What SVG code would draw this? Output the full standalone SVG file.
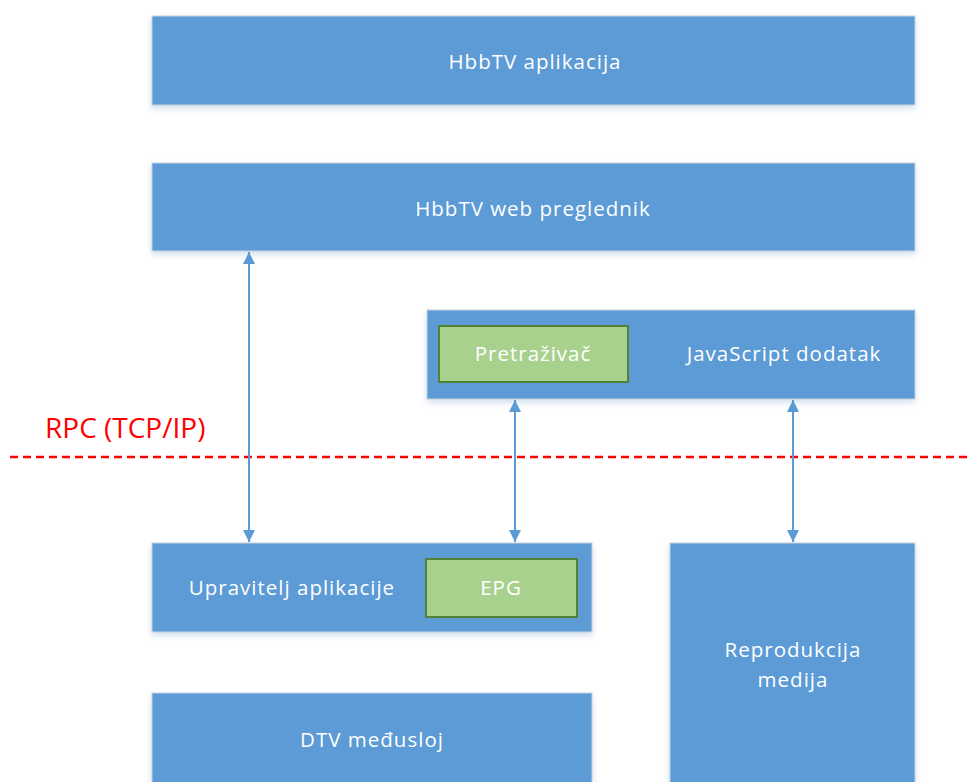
<svg xmlns="http://www.w3.org/2000/svg" width="969" height="782" viewBox="0 0 969 782">
<style>
.box{fill:#5b9bd5;stroke:#c8d3df;stroke-width:1}
.g{fill:#a9d18e;stroke:#548235;stroke-width:2}
.t{font-family:"Open Sans","Noto Sans","Liberation Sans",sans-serif;font-size:20.5px;fill:#ffffff;text-anchor:middle;letter-spacing:1px}
.c{stroke:#5b9bd5;stroke-width:2;fill:none;marker-start:url(#ah);marker-end:url(#ah)}
</style>
<defs>
<filter id="sh" x="-5%" y="-10%" width="110%" height="130%">
<feDropShadow dx="0" dy="3" stdDeviation="3" flood-color="#9cb6d6" flood-opacity="0.45"/>
</filter>
<marker id="ah" viewBox="0 0 10 10" refX="10" refY="5" markerWidth="12" markerHeight="13" markerUnits="userSpaceOnUse" orient="auto-start-reverse">
<path d="M0,0 L10,5 L0,10 z" fill="#5b9bd5"/>
</marker>
</defs>
<rect width="969" height="782" fill="#ffffff"/>
<g id="app">
<rect class="box" filter="url(#sh)" x="152" y="16" width="763" height="89"/>
<text class="t" x="535" y="69">HbbTV aplikacija</text>
</g>
<g id="browser">
<rect class="box" filter="url(#sh)" x="152" y="163" width="763" height="88"/>
<text class="t" x="533" y="216">HbbTV web preglednik</text>
</g>
<g id="js">
<rect class="box" filter="url(#sh)" x="427" y="310" width="488" height="89"/>
<text class="t" x="784" y="361">JavaScript dodatak</text>
</g>
<g id="search">
<rect class="g" x="439" y="326" width="189" height="56"/>
<text class="t" x="533" y="361">Pretraživač</text>
</g>
<g id="manager">
<rect class="box" filter="url(#sh)" x="152" y="543" width="440" height="89"/>
<text class="t" x="292" y="595">Upravitelj aplikacije</text>
</g>
<g id="epg">
<rect class="g" x="426" y="559" width="151" height="58"/>
<text class="t" x="501" y="595">EPG</text>
</g>
<g id="media">
<rect class="box" filter="url(#sh)" x="670" y="543" width="245" height="250"/>
<text class="t" x="793" y="657">Reprodukcija</text>
<text class="t" x="793" y="687">medija</text>
</g>
<g id="dtv">
<rect class="box" filter="url(#sh)" x="152" y="693" width="440" height="100"/>
<text class="t" x="372" y="747">DTV međusloj</text>
</g>
<g id="rpc">
<line x1="10" y1="457" x2="969" y2="457" stroke="#ff0000" stroke-width="2.5" stroke-dasharray="8,5"/>
<text x="45" y="438" font-family="'Open Sans','Noto Sans','Liberation Sans',sans-serif" font-size="28" fill="#ff0000">RPC (TCP/IP)</text>
</g>
<g id="connectors">
<line class="c" x1="249" y1="252" x2="249" y2="542"/>
<line class="c" x1="515" y1="400" x2="515" y2="542"/>
<line class="c" x1="793" y1="400" x2="793" y2="542"/>
</g>
</svg>
